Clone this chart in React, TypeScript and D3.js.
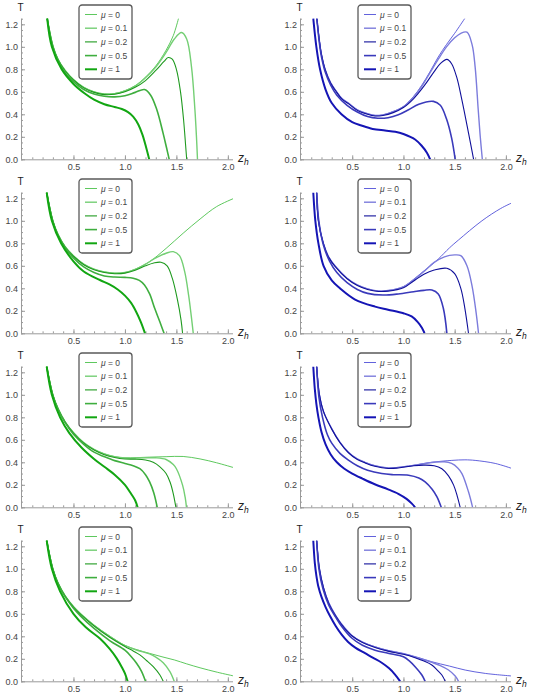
import React, { useEffect, useRef } from "react";
import * as d3 from "d3";

type Pt = [number, number];

// legend entries, ticks
const muLabels = ["0", "0.1", "0.2", "0.5", "1"];
const zTicks = [0.5, 1.0, 1.5, 2.0];
const tTicks = [0, 0.2, 0.4, 0.6, 0.8, 1.0, 1.2];

const greenColors = ["#4cc24c", "#74cf74", "#1f9a1f", "#3fae3f", "#12a612"];
const blueColors = ["#5050d8", "#7c7cdc", "#10109a", "#3a3abb", "#1515b5"];
const lineWidths = [0.9, 1.4, 1.1, 1.6, 2.0];

// curves: [z_h, T], order mu = 0, 0.1, 0.2, 0.5, 1
const greenRow1: Pt[][] = [
  [[0.245, 1.25], [0.3, 1.01], [0.35, 0.89], [0.42, 0.79], [0.5, 0.71], [0.6, 0.64], [0.7, 0.6], [0.8, 0.582], [0.9, 0.585], [1.0, 0.61], [1.1, 0.655], [1.2, 0.73], [1.3, 0.83], [1.4, 0.97], [1.47, 1.1], [1.52, 1.25]],
  [[0.245, 1.25], [0.3, 1.01], [0.35, 0.89], [0.42, 0.79], [0.5, 0.71], [0.6, 0.64], [0.7, 0.6], [0.8, 0.58], [0.9, 0.583], [1.0, 0.607], [1.1, 0.65], [1.2, 0.725], [1.3, 0.82], [1.4, 0.95], [1.48, 1.07], [1.55, 1.127], [1.6, 1.07], [1.647, 0.82], [1.68, 0.44], [1.695, 0.2], [1.705, 0]],
  [[0.245, 1.25], [0.3, 1.0], [0.35, 0.885], [0.42, 0.785], [0.5, 0.705], [0.6, 0.635], [0.7, 0.595], [0.8, 0.575], [0.9, 0.578], [1.0, 0.6], [1.1, 0.64], [1.2, 0.7], [1.3, 0.79], [1.38, 0.87], [1.42, 0.905], [1.46, 0.89], [1.5, 0.8], [1.54, 0.6], [1.57, 0.35], [1.59, 0.12], [1.6, 0]],
  [[0.245, 1.25], [0.3, 1.0], [0.35, 0.88], [0.42, 0.77], [0.5, 0.69], [0.6, 0.62], [0.7, 0.58], [0.8, 0.56], [0.9, 0.555], [1.0, 0.565], [1.1, 0.595], [1.19, 0.62], [1.25, 0.57], [1.31, 0.44], [1.37, 0.235], [1.405, 0.1], [1.43, 0]],
  [[0.245, 1.25], [0.29, 1.0], [0.385, 0.8], [0.5, 0.67], [0.61, 0.585], [0.7, 0.53], [0.8, 0.49], [0.9, 0.465], [0.97, 0.447], [1.03, 0.42], [1.08, 0.38], [1.13, 0.31], [1.17, 0.22], [1.205, 0.11], [1.236, 0]],
];

const blueRow1: Pt[][] = [
  [[0.155, 1.25], [0.18, 1.05], [0.2, 0.93], [0.235, 0.8], [0.29, 0.68], [0.349, 0.6], [0.4, 0.54], [0.463, 0.5], [0.55, 0.44], [0.65, 0.405], [0.723, 0.39], [0.8, 0.395], [0.9, 0.425], [1.0, 0.47], [1.1, 0.56], [1.18, 0.66], [1.26, 0.78], [1.34, 0.91], [1.42, 1.02], [1.5, 1.12], [1.597, 1.25]],
  [[0.155, 1.25], [0.18, 1.05], [0.2, 0.93], [0.235, 0.8], [0.29, 0.68], [0.349, 0.6], [0.4, 0.54], [0.463, 0.5], [0.55, 0.44], [0.65, 0.405], [0.723, 0.39], [0.8, 0.395], [0.9, 0.423], [1.0, 0.467], [1.1, 0.555], [1.18, 0.65], [1.26, 0.77], [1.34, 0.89], [1.42, 1.0], [1.5, 1.08], [1.56, 1.12], [1.62, 1.13], [1.67, 1.02], [1.7, 0.82], [1.73, 0.44], [1.75, 0.2], [1.77, 0]],
  [[0.155, 1.25], [0.18, 1.05], [0.2, 0.93], [0.235, 0.8], [0.29, 0.675], [0.349, 0.595], [0.4, 0.535], [0.463, 0.495], [0.55, 0.435], [0.65, 0.4], [0.723, 0.385], [0.8, 0.39], [0.9, 0.415], [1.0, 0.46], [1.1, 0.54], [1.2, 0.65], [1.3, 0.78], [1.36, 0.85], [1.424, 0.888], [1.47, 0.85], [1.52, 0.73], [1.57, 0.53], [1.635, 0.235], [1.685, 0]],
  [[0.155, 1.25], [0.18, 1.03], [0.2, 0.91], [0.235, 0.78], [0.29, 0.66], [0.35, 0.57], [0.45, 0.48], [0.55, 0.42], [0.65, 0.38], [0.75, 0.365], [0.85, 0.37], [0.95, 0.395], [1.05, 0.44], [1.15, 0.49], [1.293, 0.515], [1.36, 0.48], [1.42, 0.36], [1.47, 0.19], [1.505, 0]],
  [[0.12, 1.25], [0.15, 1.0], [0.186, 0.8], [0.24, 0.62], [0.3, 0.5], [0.395, 0.4], [0.5, 0.33], [0.59, 0.3], [0.7, 0.27], [0.82, 0.256], [0.92, 0.245], [1.0, 0.225], [1.114, 0.176], [1.18, 0.118], [1.229, 0.059], [1.261, 0]],
];

const greenRow2: Pt[][] = [
  [[0.24, 1.25], [0.3, 1.0], [0.35, 0.88], [0.42, 0.77], [0.5, 0.69], [0.6, 0.615], [0.7, 0.57], [0.8, 0.545], [0.9, 0.535], [1.0, 0.54], [1.1, 0.57], [1.24, 0.637], [1.4, 0.755], [1.566, 0.89], [1.73, 1.016], [1.89, 1.126], [2.06, 1.2]],
  [[0.24, 1.25], [0.3, 1.0], [0.35, 0.88], [0.42, 0.77], [0.5, 0.69], [0.6, 0.615], [0.7, 0.57], [0.8, 0.545], [0.9, 0.535], [1.0, 0.54], [1.1, 0.568], [1.2, 0.615], [1.3, 0.67], [1.4, 0.712], [1.47, 0.726], [1.53, 0.69], [1.58, 0.55], [1.62, 0.33], [1.645, 0.15], [1.664, 0]],
  [[0.24, 1.25], [0.3, 1.0], [0.35, 0.875], [0.42, 0.765], [0.5, 0.685], [0.6, 0.61], [0.7, 0.565], [0.8, 0.54], [0.9, 0.53], [1.0, 0.535], [1.1, 0.56], [1.2, 0.6], [1.28, 0.625], [1.35, 0.632], [1.41, 0.6], [1.46, 0.49], [1.51, 0.3], [1.545, 0.12], [1.56, 0]],
  [[0.24, 1.25], [0.3, 0.99], [0.35, 0.87], [0.42, 0.76], [0.5, 0.67], [0.6, 0.59], [0.7, 0.54], [0.8, 0.51], [0.9, 0.5], [1.0, 0.497], [1.08, 0.49], [1.14, 0.47], [1.19, 0.43], [1.24, 0.35], [1.29, 0.22], [1.34, 0.1], [1.38, 0]],
  [[0.24, 1.25], [0.29, 1.0], [0.38, 0.8], [0.5, 0.64], [0.6, 0.55], [0.757, 0.474], [0.85, 0.435], [0.93, 0.39], [1.0, 0.335], [1.06, 0.27], [1.11, 0.19], [1.155, 0.1], [1.195, 0]],
];

const blueRow2: Pt[][] = [
  [[0.153, 1.25], [0.17, 1.0], [0.218, 0.8], [0.27, 0.68], [0.332, 0.6], [0.45, 0.49], [0.55, 0.43], [0.65, 0.395], [0.756, 0.376], [0.85, 0.38], [1.0, 0.415], [1.1, 0.48], [1.18, 0.54], [1.277, 0.61], [1.34, 0.66], [1.45, 0.76], [1.538, 0.83], [1.766, 1.0], [1.95, 1.11], [2.06, 1.16]],
  [[0.153, 1.25], [0.17, 1.0], [0.218, 0.8], [0.27, 0.68], [0.332, 0.6], [0.45, 0.49], [0.55, 0.43], [0.65, 0.395], [0.756, 0.376], [0.85, 0.38], [1.0, 0.413], [1.1, 0.475], [1.2, 0.55], [1.3, 0.63], [1.4, 0.68], [1.5, 0.697], [1.56, 0.69], [1.62, 0.6], [1.67, 0.42], [1.71, 0.18], [1.733, 0]],
  [[0.153, 1.25], [0.17, 1.0], [0.218, 0.8], [0.27, 0.675], [0.332, 0.595], [0.45, 0.485], [0.55, 0.425], [0.65, 0.39], [0.756, 0.372], [0.85, 0.375], [1.0, 0.405], [1.1, 0.465], [1.2, 0.525], [1.3, 0.562], [1.424, 0.578], [1.5, 0.53], [1.56, 0.4], [1.6, 0.22], [1.635, 0]],
  [[0.153, 1.25], [0.175, 0.99], [0.22, 0.78], [0.28, 0.64], [0.35, 0.54], [0.45, 0.45], [0.55, 0.39], [0.65, 0.355], [0.8, 0.34], [0.95, 0.35], [1.1, 0.37], [1.2, 0.382], [1.278, 0.385], [1.34, 0.35], [1.39, 0.22], [1.424, 0]],
  [[0.12, 1.25], [0.14, 1.0], [0.17, 0.8], [0.22, 0.6], [0.3, 0.47], [0.38, 0.4], [0.528, 0.3], [0.723, 0.237], [0.85, 0.21], [1.0, 0.178], [1.08, 0.15], [1.14, 0.1], [1.18, 0.05], [1.206, 0]],
];

const greenRow3: Pt[][] = [
  [[0.24, 1.25], [0.3, 1.0], [0.35, 0.88], [0.42, 0.76], [0.5, 0.665], [0.6, 0.575], [0.7, 0.515], [0.8, 0.475], [0.9, 0.45], [1.0, 0.44], [1.24, 0.446], [1.4, 0.45], [1.566, 0.452], [1.73, 0.43], [1.89, 0.396], [2.06, 0.352]],
  [[0.24, 1.25], [0.3, 1.0], [0.35, 0.88], [0.42, 0.76], [0.5, 0.665], [0.6, 0.575], [0.7, 0.515], [0.8, 0.475], [0.9, 0.45], [1.0, 0.438], [1.2, 0.44], [1.3, 0.44], [1.4, 0.425], [1.47, 0.38], [1.5, 0.343], [1.56, 0.197], [1.585, 0.09], [1.598, 0]],
  [[0.24, 1.25], [0.3, 1.0], [0.35, 0.875], [0.42, 0.755], [0.5, 0.66], [0.6, 0.57], [0.7, 0.51], [0.8, 0.468], [0.9, 0.443], [1.0, 0.43], [1.1, 0.428], [1.2, 0.42], [1.275, 0.4], [1.34, 0.36], [1.4, 0.3], [1.44, 0.22], [1.47, 0.12], [1.495, 0]],
  [[0.24, 1.25], [0.3, 0.99], [0.35, 0.87], [0.42, 0.75], [0.5, 0.65], [0.6, 0.56], [0.7, 0.49], [0.8, 0.45], [0.9, 0.415], [1.0, 0.39], [1.08, 0.37], [1.145, 0.343], [1.2, 0.29], [1.24, 0.226], [1.28, 0.13], [1.314, 0]],
  [[0.24, 1.25], [0.29, 1.0], [0.37, 0.8], [0.46, 0.66], [0.58, 0.53], [0.7, 0.43], [0.8, 0.36], [0.9, 0.29], [1.0, 0.2], [1.06, 0.12], [1.1, 0.06], [1.123, 0]],
];

const blueRow3: Pt[][] = [
  [[0.153, 1.25], [0.18, 1.0], [0.22, 0.85], [0.3, 0.7], [0.38, 0.58], [0.463, 0.49], [0.55, 0.43], [0.625, 0.4], [0.72, 0.37], [0.853, 0.35], [0.95, 0.355], [1.05, 0.367], [1.277, 0.4], [1.472, 0.417], [1.6, 0.422], [1.7, 0.417], [1.896, 0.39], [2.06, 0.345]],
  [[0.153, 1.25], [0.18, 1.0], [0.22, 0.85], [0.3, 0.7], [0.38, 0.58], [0.463, 0.49], [0.55, 0.43], [0.625, 0.4], [0.72, 0.37], [0.853, 0.35], [0.95, 0.355], [1.05, 0.366], [1.3, 0.4], [1.4, 0.405], [1.47, 0.39], [1.53, 0.35], [1.571, 0.3], [1.635, 0.138], [1.675, 0]],
  [[0.153, 1.25], [0.18, 1.0], [0.22, 0.85], [0.3, 0.695], [0.38, 0.575], [0.463, 0.485], [0.55, 0.425], [0.625, 0.395], [0.72, 0.365], [0.853, 0.345], [0.95, 0.35], [1.1, 0.37], [1.2, 0.375], [1.3, 0.37], [1.375, 0.343], [1.44, 0.28], [1.49, 0.197], [1.525, 0.1], [1.554, 0]],
  [[0.153, 1.25], [0.175, 0.98], [0.21, 0.8], [0.26, 0.64], [0.3, 0.57], [0.38, 0.48], [0.463, 0.42], [0.55, 0.37], [0.65, 0.33], [0.788, 0.3], [0.9, 0.29], [1.05, 0.285], [1.15, 0.26], [1.212, 0.226], [1.28, 0.16], [1.326, 0.094], [1.369, 0]],
  [[0.12, 1.25], [0.135, 1.05], [0.15, 0.92], [0.17, 0.8], [0.2, 0.67], [0.24, 0.56], [0.29, 0.47], [0.35, 0.4], [0.42, 0.345], [0.5, 0.3], [0.6, 0.255], [0.72, 0.205], [0.85, 0.16], [0.95, 0.12], [1.03, 0.075], [1.08, 0.035], [1.114, 0]],
];

const greenRow4: Pt[][] = [
  [[0.24, 1.25], [0.3, 1.0], [0.35, 0.875], [0.42, 0.76], [0.5, 0.665], [0.57, 0.6], [0.7, 0.5], [0.855, 0.4], [1.0, 0.32], [1.12, 0.28], [1.24, 0.248], [1.36, 0.218], [1.48, 0.19], [1.6, 0.155], [1.73, 0.12], [1.9, 0.08], [2.06, 0.047]],
  [[0.24, 1.25], [0.3, 1.0], [0.35, 0.875], [0.42, 0.76], [0.5, 0.665], [0.57, 0.6], [0.7, 0.498], [0.855, 0.397], [1.0, 0.317], [1.12, 0.276], [1.24, 0.243], [1.3, 0.215], [1.372, 0.165], [1.437, 0.086], [1.479, 0]],
  [[0.24, 1.25], [0.3, 1.0], [0.35, 0.872], [0.42, 0.755], [0.5, 0.66], [0.57, 0.595], [0.7, 0.492], [0.855, 0.39], [1.0, 0.31], [1.08, 0.27], [1.145, 0.235], [1.21, 0.185], [1.275, 0.13], [1.34, 0.056], [1.372, 0]],
  [[0.24, 1.25], [0.3, 0.99], [0.35, 0.865], [0.42, 0.75], [0.5, 0.65], [0.57, 0.58], [0.7, 0.47], [0.855, 0.36], [1.0, 0.277], [1.06, 0.22], [1.113, 0.16], [1.16, 0.09], [1.2, 0]],
  [[0.24, 1.25], [0.29, 1.0], [0.37, 0.8], [0.5, 0.6], [0.62, 0.48], [0.757, 0.38], [0.85, 0.29], [0.92, 0.204], [0.97, 0.125], [1.0, 0.07], [1.026, 0]],
];

const blueRow4: Pt[][] = [
  [[0.153, 1.25], [0.18, 1.0], [0.22, 0.83], [0.27, 0.7], [0.339, 0.585], [0.4, 0.505], [0.495, 0.41], [0.6, 0.35], [0.723, 0.307], [0.85, 0.275], [1.0, 0.248], [1.15, 0.21], [1.277, 0.174], [1.45, 0.135], [1.603, 0.1], [1.8, 0.07], [2.06, 0.047]],
  [[0.153, 1.25], [0.18, 1.0], [0.22, 0.83], [0.27, 0.7], [0.339, 0.585], [0.4, 0.505], [0.495, 0.41], [0.6, 0.348], [0.723, 0.305], [0.85, 0.272], [1.0, 0.244], [1.15, 0.205], [1.277, 0.168], [1.36, 0.14], [1.44, 0.1], [1.505, 0.047], [1.538, 0]],
  [[0.153, 1.25], [0.18, 1.0], [0.22, 0.83], [0.27, 0.695], [0.339, 0.58], [0.4, 0.5], [0.495, 0.405], [0.6, 0.345], [0.723, 0.3], [0.85, 0.268], [1.0, 0.24], [1.114, 0.21], [1.2, 0.18], [1.277, 0.145], [1.33, 0.1], [1.375, 0.056], [1.408, 0]],
  [[0.153, 1.25], [0.175, 1.0], [0.215, 0.82], [0.27, 0.68], [0.339, 0.57], [0.4, 0.485], [0.495, 0.385], [0.6, 0.32], [0.723, 0.277], [0.85, 0.25], [1.0, 0.218], [1.06, 0.18], [1.114, 0.13], [1.18, 0.056], [1.212, 0]],
  [[0.12, 1.25], [0.135, 1.05], [0.15, 0.94], [0.17, 0.84], [0.2, 0.75], [0.24, 0.66], [0.283, 0.58], [0.34, 0.49], [0.397, 0.415], [0.46, 0.35], [0.53, 0.3], [0.625, 0.25], [0.7, 0.21], [0.788, 0.165], [0.86, 0.115], [0.918, 0.06], [0.968, 0]],
];

const panels = [
  { curves: greenRow1, colors: greenColors, col: 0, row: 0 },
  { curves: blueRow1, colors: blueColors, col: 1, row: 0 },
  { curves: greenRow2, colors: greenColors, col: 0, row: 1 },
  { curves: blueRow2, colors: blueColors, col: 1, row: 1 },
  { curves: greenRow3, colors: greenColors, col: 0, row: 2 },
  { curves: blueRow3, colors: blueColors, col: 1, row: 2 },
  { curves: greenRow4, colors: greenColors, col: 0, row: 3 },
  { curves: blueRow4, colors: blueColors, col: 1, row: 3 },
];

const W = 534;
const H = 698;

export default function App() {
  const ref = useRef<SVGSVGElement | null>(null);

  useEffect(() => {
    if (!ref.current) return;
    const svg = d3.select(ref.current);
    svg.selectAll("*").remove();

    const font = "Arial, 'Liberation Sans', sans-serif";
    const axisColor = "#9a9a9a";
    const labelColor = "#444";

    panels.forEach((p, i) => {
      const xLeft = p.col === 0 ? 22 : 301;
      const xRight = p.col === 0 ? 233 : 511;
      const yBottom = 159.3 + 174 * p.row;
      const yTop = yBottom - 140.6;

      const x = d3.scaleLinear().domain([0, 2.05]).range([xLeft, xRight]);
      const y = d3.scaleLinear().domain([0, 1.25]).range([yBottom, yTop]);

      const g = svg.append("g");

      // clip to the plot range
      const clipId = `clip-${i}`;
      g.append("clipPath")
        .attr("id", clipId)
        .append("rect")
        .attr("x", x(0))
        .attr("y", y(1.25) - 1)
        .attr("width", x(2.05) - x(0))
        .attr("height", y(0) - y(1.25) + 1);

      // minor ticks
      const yMinor = d3.range(0, 1.2501, 0.05);
      const xMinor = d3.range(0.1, 2.0501, 0.1);

      const yAxisMinor = g
        .append("g")
        .attr("transform", `translate(${x(0) - 1},0)`)
        .call(d3.axisLeft(y).tickValues(yMinor).tickSize(-2).tickSizeOuter(0).tickFormat(() => ""));
      yAxisMinor.select(".domain").remove();

      const xAxisMinor = g
        .append("g")
        .attr("transform", `translate(0,${y(0)})`)
        .call(d3.axisBottom(x).tickValues(xMinor).tickSize(-2).tickSizeOuter(0).tickFormat(() => ""));
      xAxisMinor.select(".domain").remove();

      // major ticks + labels
      const yAxis = g
        .append("g")
        .attr("transform", `translate(${x(0) - 1},0)`)
        .call(
          d3
            .axisLeft(y)
            .tickValues(tTicks)
            .tickSize(-4)
            .tickSizeOuter(0)
            .tickPadding(3)
            .tickFormat(d3.format(".1f"))
        );

      const xAxis = g
        .append("g")
        .attr("transform", `translate(0,${y(0)})`)
        .call(
          d3
            .axisBottom(x)
            .tickValues(zTicks)
            .tickSize(-4)
            .tickSizeOuter(0)
            .tickPadding(4)
            .tickFormat(d3.format(".1f"))
        );

      [yAxis, xAxis, yAxisMinor, xAxisMinor].forEach((a) => {
        a.selectAll("line").attr("stroke", axisColor);
        a.selectAll("path").attr("stroke", axisColor);
        a.selectAll("text")
          .attr("fill", labelColor)
          .style("font-family", font)
          .style("font-size", "9px");
      });
      xAxis.select(".domain").attr("d", `M${x(0) - 1},0.5H${x(2.05)}`);
      yAxis.select(".domain").attr("d", `M0.5,${y(0)}V${y(1.25)}`);

      // axis labels
      g.append("text")
        .attr("x", x(0) - 1.5)
        .attr("y", y(1.25) - 8)
        .attr("text-anchor", "middle")
        .attr("fill", "#222")
        .style("font-family", font)
        .style("font-size", "10px")
        .text("T");

      const zl = g
        .append("text")
        .attr("x", x(2.05) + 5)
        .attr("y", y(0) + 3)
        .attr("fill", "#222")
        .style("font-family", font)
        .style("font-size", "12px");
      zl.append("tspan").style("font-style", "italic").text("z");
      zl.append("tspan")
        .attr("dy", 3)
        .style("font-style", "italic")
        .style("font-size", "8.5px")
        .text("h");

      // curves
      const line = d3
        .line<Pt>()
        .x((d) => x(d[0]))
        .y((d) => y(d[1]))
        .curve(d3.curveCatmullRom.alpha(0.5));

      const plot = g.append("g").attr("clip-path", `url(#${clipId})`);
      p.curves.forEach((c, k) => {
        plot
          .append("path")
          .attr("d", line(c))
          .attr("fill", "none")
          .attr("stroke", p.colors[k])
          .attr("stroke-width", lineWidths[k])
          .attr("stroke-linejoin", "round");
      });

      // legend
      const lx = p.col === 0 ? 79 : 358;
      const ly = 5 + 174 * p.row;
      const leg = g.append("g").attr("transform", `translate(${lx},${ly})`);
      leg.append("rect")
        .attr("x", 0)
        .attr("y", 0)
        .attr("width", 53)
        .attr("height", 74)
        .attr("rx", 3)
        .attr("fill", "white")
        .attr("stroke", "#5a5a5a")
        .attr("stroke-width", 1.3);
      muLabels.forEach((m, k) => {
        const yy = 9.5 + k * 13.7;
        leg.append("line")
          .attr("x1", 6)
          .attr("x2", 18)
          .attr("y1", yy)
          .attr("y2", yy)
          .attr("stroke", p.colors[k])
          .attr("stroke-width", lineWidths[k]);
        const t = leg
          .append("text")
          .attr("x", 22)
          .attr("y", yy + 3)
          .attr("fill", labelColor)
          .style("font-family", font)
          .style("font-size", "8.5px");
        t.append("tspan").style("font-style", "italic").text("μ");
        t.append("tspan").text(` = ${m}`);
      });
    });
  }, []);

  return (
    <svg
      ref={ref}
      width={W}
      height={H}
      style={{ position: "absolute", left: 0, top: 0, background: "white" }}
    />
  );
}
